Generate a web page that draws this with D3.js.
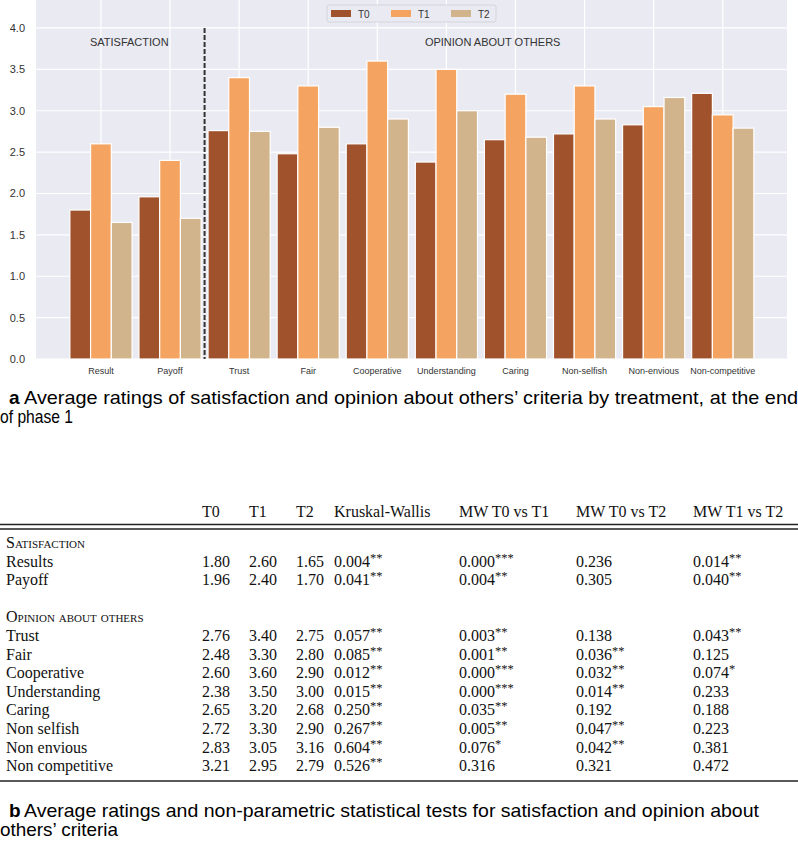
<!DOCTYPE html>
<html>
<head>
<meta charset="utf-8">
<script src="https://cdn.jsdelivr.net/npm/d3@7"></script>
<style>
  body { margin: 0; background: #fff; }
</style>
</head>
<body>
<div id="chart"></div>
<script>
var width = 798;
var height = 850;

// chart data
var categories = ["Result", "Payoff", "Trust", "Fair", "Cooperative", "Understanding", "Caring", "Non-selfish", "Non-envious", "Non-competitive"];
var seriesNames = ["T0", "T1", "T2"];
var t0 = [1.80, 1.96, 2.76, 2.48, 2.60, 2.38, 2.65, 2.72, 2.83, 3.21];
var t1 = [2.60, 2.40, 3.40, 3.30, 3.60, 3.50, 3.20, 3.30, 3.05, 2.95];
var t2 = [1.65, 1.70, 2.75, 2.80, 2.90, 3.00, 2.68, 2.90, 3.16, 2.79];
var yTicks = [0, 0.5, 1, 1.5, 2, 2.5, 3, 3.5, 4];

// table data
var tableHeader = ["T0", "T1", "T2", "Kruskal-Wallis", "MW T0 vs T1", "MW T0 vs T2", "MW T1 vs T2"];
var rowLabels = ["Results", "Payoff", "Trust", "Fair", "Cooperative", "Understanding", "Caring", "Non selfish", "Non envious", "Non competitive"];
var kw   = ["0.004**", "0.041**", "0.057**", "0.085**", "0.012**", "0.015**", "0.250**", "0.267**", "0.604**", "0.526**"];
var mw01 = ["0.000***", "0.004**", "0.003**", "0.001**", "0.000***", "0.000***", "0.035**", "0.005**", "0.076*", "0.316"];
var mw02 = ["0.236", "0.305", "0.138", "0.036**", "0.032**", "0.014**", "0.192", "0.047**", "0.042**", "0.321"];
var mw12 = ["0.014**", "0.040**", "0.043**", "0.125", "0.074*", "0.233", "0.188", "0.223", "0.381", "0.472"];

var colors = ["#a0522d", "#f4a460", "#d2b48c"];
var series = [t0, t1, t2];

var svg = d3.select("#chart").append("svg")
  .attr("width", width)
  .attr("height", height)
  .style("font-family", "'Liberation Sans', Arial, sans-serif");

// ---------- bar chart ----------
var plot = {left: 36, right: 787, top: 0, bottom: 359};

var x = d3.scaleLinear().domain([-0.94, 9.93]).range([plot.left, plot.right]);
var y = d3.scaleLinear().domain([0, 4.338]).range([plot.bottom, plot.top]);
var step = x(1) - x(0);
var bw = step * 0.3;

svg.append("rect")
  .attr("x", plot.left).attr("y", plot.top)
  .attr("width", plot.right - plot.left).attr("height", plot.bottom - plot.top)
  .attr("fill", "#eaeaf2");

var grid = svg.append("g");
grid.selectAll("line.h").data(yTicks).enter().append("line")
  .attr("class", "h")
  .attr("x1", plot.left).attr("x2", plot.right)
  .attr("y1", function(d){ return y(d); }).attr("y2", function(d){ return y(d); })
  .attr("stroke", "#fff").attr("stroke-width", 1.2);
grid.selectAll("line.v").data(categories).enter().append("line")
  .attr("class", "v")
  .attr("x1", function(d, i){ return x(i); }).attr("x2", function(d, i){ return x(i); })
  .attr("y1", plot.top).attr("y2", plot.bottom)
  .attr("stroke", "#fff").attr("stroke-width", 1.2);

var bars = svg.append("g");
series.forEach(function(vals, j){
  bars.selectAll("rect.s" + j).data(vals).enter().append("rect")
    .attr("class", "s" + j)
    .attr("x", function(d, i){ return x(i + (j - 1) * 0.3) - bw / 2; })
    .attr("y", function(d){ return y(d); })
    .attr("width", bw)
    .attr("height", function(d){ return y(0) - y(d); })
    .attr("fill", colors[j])
    .attr("stroke", "#fff")
    .attr("stroke-width", 1.2);
});

// separator between the two groups
svg.append("line")
  .attr("x1", x(1.5)).attr("x2", x(1.5))
  .attr("y1", y(4)).attr("y2", y(0))
  .attr("stroke", "#333").attr("stroke-width", 2)
  .attr("stroke-dasharray", "5,2");

svg.append("text").attr("x", x(0.41)).attr("y", y(3.78))
  .attr("text-anchor", "middle").attr("font-size", 11).attr("fill", "#333")
  .text("SATISFACTION");
svg.append("text").attr("x", x(5.67)).attr("y", y(3.78))
  .attr("text-anchor", "middle").attr("font-size", 11).attr("fill", "#333")
  .text("OPINION ABOUT OTHERS");

// axes labels
svg.append("g").selectAll("text").data(yTicks).enter().append("text")
  .attr("x", 25).attr("y", function(d){ return y(d) + 4; })
  .attr("text-anchor", "end").attr("font-size", 11).attr("fill", "#333")
  .text(function(d){ return d3.format(".1f")(d); });
svg.append("g").selectAll("text").data(categories).enter().append("text")
  .attr("x", function(d, i){ return x(i); }).attr("y", 374)
  .attr("text-anchor", "middle").attr("font-size", 9).attr("fill", "#333")
  .text(function(d){ return d; });

// legend
var leg = svg.append("g");
leg.append("rect").attr("x", 327).attr("y", 5).attr("width", 169).attr("height", 17)
  .attr("rx", 2).attr("fill", "#eaeaf2").attr("stroke", "#cfcfd6").attr("stroke-width", 0.8);
seriesNames.forEach(function(n, j){
  leg.append("rect").attr("x", 331 + j * 60).attr("y", 10).attr("width", 20).attr("height", 7)
    .attr("fill", colors[j]);
  leg.append("text").attr("x", 358 + j * 60).attr("y", 17.5).attr("font-size", 10)
    .attr("fill", "#333").text(n);
});

// caption a
var capSize = 19;
svg.append("text").attr("x", 9).attr("y", 404).attr("font-size", capSize).attr("font-weight", "bold")
  .text("a");
svg.append("text").attr("x", 24).attr("y", 404).attr("font-size", capSize)
  .attr("textLength", 774).attr("lengthAdjust", "spacingAndGlyphs")
  .text("Average ratings of satisfaction and opinion about others\u2019 criteria by treatment, at the end");
svg.append("text").attr("x", 0).attr("y", 423).attr("font-size", capSize)
  .attr("textLength", 73).attr("lengthAdjust", "spacingAndGlyphs")
  .text("of phase 1");

// ---------- table ----------
var tab = svg.append("g").style("font-family", "'Liberation Serif', 'Times New Roman', serif")
  .attr("fill", "#111");
var colX = [202, 249, 296, 334, 459, 576, 693];
var fs = 16;
var labX = 6;

tab.selectAll("text.hd").data(tableHeader).enter().append("text")
  .attr("class", "hd")
  .attr("x", function(d, i){ return colX[i]; }).attr("y", 517)
  .attr("font-size", fs).text(function(d){ return d; });

tab.append("line").attr("x1", 0).attr("x2", 798).attr("y1", 524.5).attr("y2", 524.5)
  .attr("stroke", "#222").attr("stroke-width", 1.4);
tab.append("line").attr("x1", 0).attr("x2", 798).attr("y1", 529).attr("y2", 529)
  .attr("stroke", "#222").attr("stroke-width", 1.4);

var pitch = 18.6;
var rowY = function(k){ return 548 + k * pitch; };
// row slots: 0 section, 1-2 satisfaction, 4 section, 5-12 opinion
var slots = [1, 2, 5, 6, 7, 8, 9, 10, 11, 12];

tab.append("text").attr("x", labX).attr("y", rowY(0)).attr("font-size", fs)
  .style("font-variant", "small-caps").text("Satisfaction");
tab.append("text").attr("x", labX).attr("y", rowY(4)).attr("font-size", fs)
  .style("font-variant", "small-caps").text("Opinion about others");

var fmt = d3.format(".2f");
var pcell = function(g, s, cx, cy){
  var m = s.match(/^([0-9.]+)(\**)$/);
  var t = g.append("text").attr("x", cx).attr("y", cy).attr("font-size", fs).text(m[1]);
  if (m[2]) t.append("tspan").attr("font-size", fs * 0.78).attr("dy", -5).text(m[2]);
};

rowLabels.forEach(function(lab, i){
  var cy = rowY(slots[i]);
  tab.append("text").attr("x", labX).attr("y", cy).attr("font-size", fs).text(lab);
  series.forEach(function(vals, j){
    tab.append("text").attr("x", colX[j]).attr("y", cy).attr("font-size", fs).text(fmt(vals[i]));
  });
  pcell(tab, kw[i], colX[3], cy);
  pcell(tab, mw01[i], colX[4], cy);
  pcell(tab, mw02[i], colX[5], cy);
  pcell(tab, mw12[i], colX[6], cy);
});

tab.append("line").attr("x1", 0).attr("x2", 798).attr("y1", 781).attr("y2", 781)
  .attr("stroke", "#222").attr("stroke-width", 1.4);

// caption b
svg.append("text").attr("x", 9).attr("y", 817).attr("font-size", capSize).attr("font-weight", "bold")
  .text("b");
svg.append("text").attr("x", 24).attr("y", 817).attr("font-size", capSize)
  .attr("textLength", 735).attr("lengthAdjust", "spacingAndGlyphs")
  .text("Average ratings and non-parametric statistical tests for satisfaction and opinion about");
svg.append("text").attr("x", 0).attr("y", 836).attr("font-size", capSize)
  .attr("textLength", 118).attr("lengthAdjust", "spacingAndGlyphs")
  .text("others\u2019 criteria");
</script>
</body>
</html>
